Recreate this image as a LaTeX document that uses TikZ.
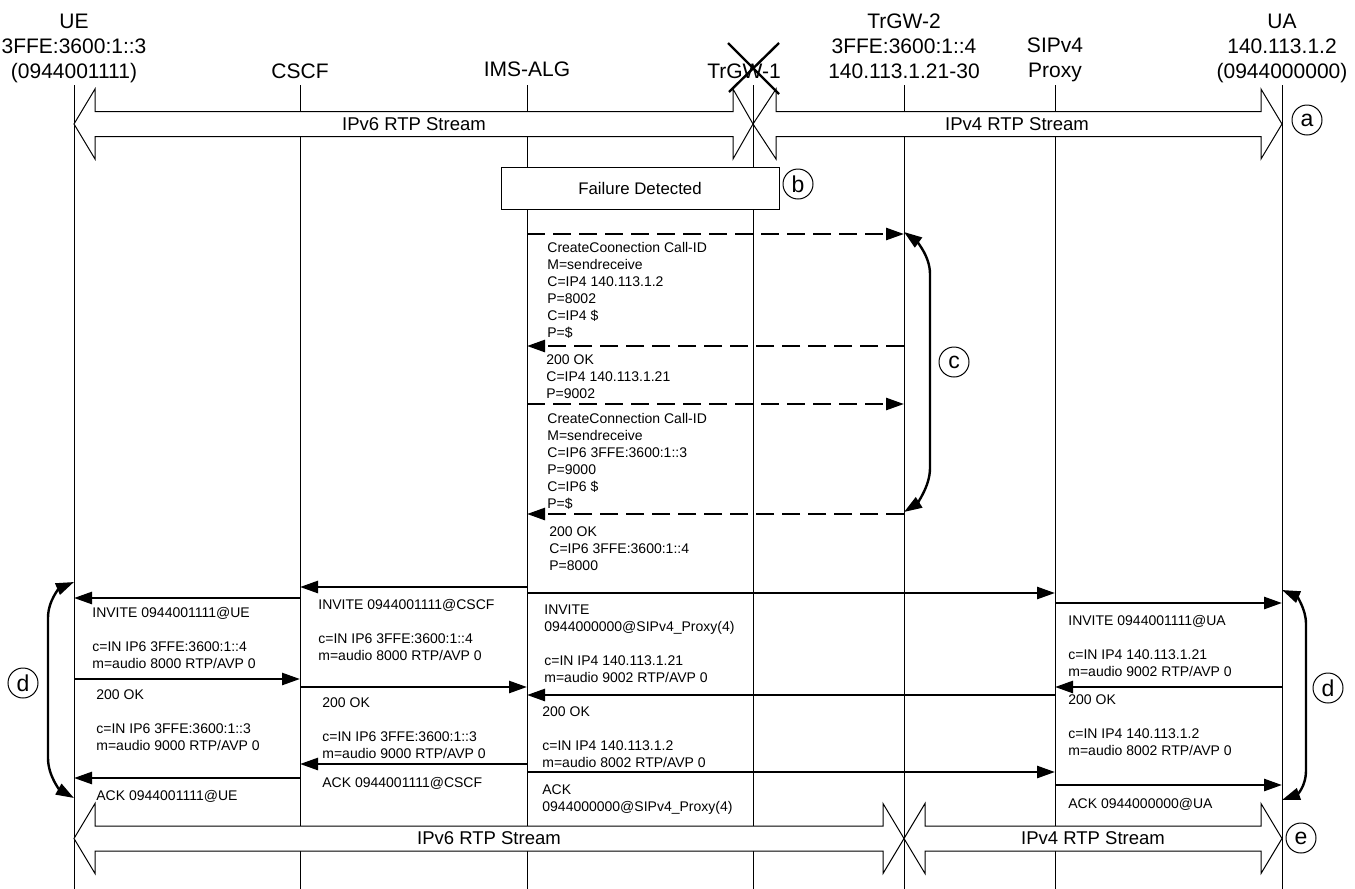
\documentclass[tikz,border=0pt]{standalone}
\usepackage{fontspec}
\setmainfont{Liberation Sans}
\usetikzlibrary{arrows.meta}
\tikzset{%
	lifeline/.style={line width=0.5pt},
	msg/.style={line width=1.3pt,-{Triangle[length=9pt,width=6pt]}},
	ctrl/.style={msg,dash pattern=on 9pt off 4pt},
	loopline/.style={line width=1.2pt,{Triangle[length=9pt,width=6pt]}-{Triangle[length=9pt,width=6pt]}},
	stream/.style={line width=0.5pt,fill=white},
	streamtext/.style={inner sep=0pt,font=\fontsize{9.25}{11}\selectfont},
	entity/.style={align=center,inner sep=0pt,anchor=north,font=\fontsize{10.5}{12.5}\selectfont},
	msgtext/.style={align=left,inner sep=0pt,anchor=north west,font=\fontsize{7}{8.5}\selectfont},
	phasetag/.style={circle,draw,line width=0.5pt,minimum size=15pt,inner sep=0pt,font=\fontsize{11.5}{12}\selectfont}
}
\begin{document}
\begin{tikzpicture}[x=0.5pt,y=-0.5pt]
	\useasboundingbox (0,0) rectangle (1355,889);

	% entities
	\node[entity] (ueh) at (74,13.5) {UE\\3FFE:3600:1::3\\(0944001111)};
	\node[entity] (cscfh) at (300,63.5) {CSCF};
	\node[entity] (imsh) at (527,61) {IMS-ALG};
	\node[entity] (trgw1h) at (744,63.5) {TrGW-1};
	\node[entity] (trgw2h) at (904,13.5) {TrGW-2\\3FFE:3600:1::4\\140.113.1.21-30};
	\node[entity] (siph) at (1055,37.5) {SIPv4\\Proxy};
	\node[entity] (uah) at (1282,13.5) {UA\\140.113.1.2\\(0944000000)};

	% lifelines
	\coordinate (ue) at (74,85);
	\coordinate (cscf) at (300,85);
	\coordinate (ims) at (527,85);
	\coordinate (trgw1) at (753,85);
	\coordinate (trgw2) at (904,85);
	\coordinate (sip) at (1055,85);
	\coordinate (ua) at (1282,85);
	\foreach \p in {ue,cscf,ims,trgw1,trgw2,sip,ua}
		\draw[lifeline] (\p) -- (\p |- 0,889);

	% media before the failure
	\draw[stream] (74,124) -- (95,89) -- (95,111.5) -- (733,111.5) -- (733,89) -- (753,124)
		-- (733,159) -- (733,136.5) -- (95,136.5) -- (95,159) -- cycle;
	\draw[stream] (753,124) -- (776,89) -- (776,111.5) -- (1261,111.5) -- (1261,89) -- (1282,124)
		-- (1261,159) -- (1261,136.5) -- (776,136.5) -- (776,159) -- cycle;
	\node[streamtext] (v6top) at (414,124) {IPv6 RTP Stream};
	\node[streamtext] (v4top) at (1017,124) {IPv4 RTP Stream};
	\draw[line width=1.2pt] (728,43) -- (779,94) (779,43) -- (729,92);
	\node[phasetag] (taga) at (1307,120) {a};

	\node[draw,fill=white,line width=0.5pt,minimum width=139pt,minimum height=21pt,
		font=\fontsize{8.4}{10}\selectfont] (fail) at (640,188) {Failure Detected};
	\node[phasetag] (tagb) at (798,184) {b};

	% TrGW-2 set up
	\draw[ctrl] (ims |- 0,234) -- (trgw2 |- 0,234);
	\node[msgtext] (cc4) at (547,242) {CreateCoonection Call-ID\\M=sendreceive\\C=IP4 140.113.1.2\\P=8002\\C=IP4 \$\\P=\$};
	\draw[ctrl] (trgw2 |- 0,346) -- (ims |- 0,346);
	\node[msgtext] (ok4) at (546,354) {200 OK\\C=IP4 140.113.1.21\\P=9002};
	\draw[ctrl] (ims |- 0,404) -- (trgw2 |- 0,404);
	\node[msgtext] (cc6) at (547,413) {CreateConnection Call-ID\\M=sendreceive\\C=IP6 3FFE:3600:1::3\\P=9000\\C=IP6 \$\\P=\$};
	\draw[ctrl] (trgw2 |- 0,514) -- (ims |- 0,514);
	\node[msgtext] (ok6) at (549,526) {200 OK\\C=IP6 3FFE:3600:1::4\\P=8000};
	\draw[loopline] (trgw2 |- 0,232) .. controls (915,240) and (930,255) .. (930,274) -- (930,468)
		.. controls (930,488) and (915,505) .. (trgw2 |- 0,512);
	\node[phasetag] (tagc) at (954,362) {c};

	% re-INVITE, IPv6 side
	\draw[msg] (ims |- 0,587) -- (cscf |- 0,587);
	\draw[msg] (cscf |- 0,598) -- (ue |- 0,598);
	\draw[msg] (ue |- 0,679) -- (cscf |- 0,679);
	\draw[msg] (cscf |- 0,687) -- (ims |- 0,687);
	\draw[msg] (ims |- 0,764) -- (cscf |- 0,764);
	\draw[msg] (cscf |- 0,778) -- (ue |- 0,778);
	\node[msgtext] (inv1) at (92,607) {INVITE 0944001111@UE\\[8.5pt]c=IN IP6 3FFE:3600:1::4\\m=audio 8000 RTP/AVP 0};
	\node[msgtext] (ok1) at (96,689) {200 OK\\[8.5pt]c=IN IP6 3FFE:3600:1::3\\m=audio 9000 RTP/AVP 0};
	\node[msgtext] (ack1) at (96,790) {ACK 0944001111@UE};
	\node[msgtext] (inv2) at (318,599) {INVITE 0944001111@CSCF\\[8.5pt]c=IN IP6 3FFE:3600:1::4\\m=audio 8000 RTP/AVP 0};
	\node[msgtext] (ok2) at (322,697) {200 OK\\[8.5pt]c=IN IP6 3FFE:3600:1::3\\m=audio 9000 RTP/AVP 0};
	\node[msgtext] (ack2) at (322,777) {ACK 0944001111@CSCF};

	% re-INVITE, IPv4 side
	\draw[msg] (ims |- 0,593) -- (sip |- 0,593);
	\draw[msg] (sip |- 0,603) -- (ua |- 0,603);
	\draw[msg] (ua |- 0,687) -- (sip |- 0,687);
	\draw[msg] (sip |- 0,695) -- (ims |- 0,695);
	\draw[msg] (ims |- 0,772) -- (sip |- 0,772);
	\draw[msg] (sip |- 0,785) -- (ua |- 0,785);
	\node[msgtext] (inv3) at (544,604) {INVITE\\0944000000@SIPv4\_Proxy(4)\\[8.5pt]c=IN IP4 140.113.1.21\\m=audio 9002 RTP/AVP 0};
	\node[msgtext] (ok3) at (542,706) {200 OK\\[8.5pt]c=IN IP4 140.113.1.2\\m=audio 8002 RTP/AVP 0};
	\node[msgtext] (ack3) at (542,784) {ACK\\0944000000@SIPv4\_Proxy(4)};
	\node[msgtext] (inv4) at (1068,615) {INVITE 0944001111@UA\\[8.5pt]c=IN IP4 140.113.1.21\\m=audio 9002 RTP/AVP 0};
	\node[msgtext] (ok4b) at (1068,694) {200 OK\\[8.5pt]c=IN IP4 140.113.1.2\\m=audio 8002 RTP/AVP 0};
	\node[msgtext] (ack4) at (1068,798) {ACK 0944000000@UA};

	\draw[loopline] (ue |- 0,582) .. controls (60,588) and (48,600) .. (48,618) -- (48,758)
		.. controls (48,776) and (60,790) .. (ue |- 0,798);
	\node[phasetag] (tagd1) at (23,683) {d};
	\draw[loopline] (ua |- 0,590) .. controls (1296,596) and (1306,608) .. (1306,624) -- (1306,770)
		.. controls (1306,788) and (1296,795) .. (ua |- 0,800);
	\node[phasetag] (tagd2) at (1328,688) {d};

	% media after the switch
	\draw[stream] (74,838.5) -- (95,803.5) -- (95,826) -- (883,826) -- (883,803.5) -- (904,838.5)
		-- (883,873.5) -- (883,851) -- (95,851) -- (95,873.5) -- cycle;
	\draw[stream] (904,838.5) -- (925,803.5) -- (925,826) -- (1261,826) -- (1261,803.5) -- (1282,838.5)
		-- (1261,873.5) -- (1261,851) -- (925,851) -- (925,873.5) -- cycle;
	\node[streamtext] (v6bot) at (489,838.5) {IPv6 RTP Stream};
	\node[streamtext] (v4bot) at (1093,838.5) {IPv4 RTP Stream};
	\node[phasetag] (tage) at (1301,838) {e};
\end{tikzpicture}
\end{document}
